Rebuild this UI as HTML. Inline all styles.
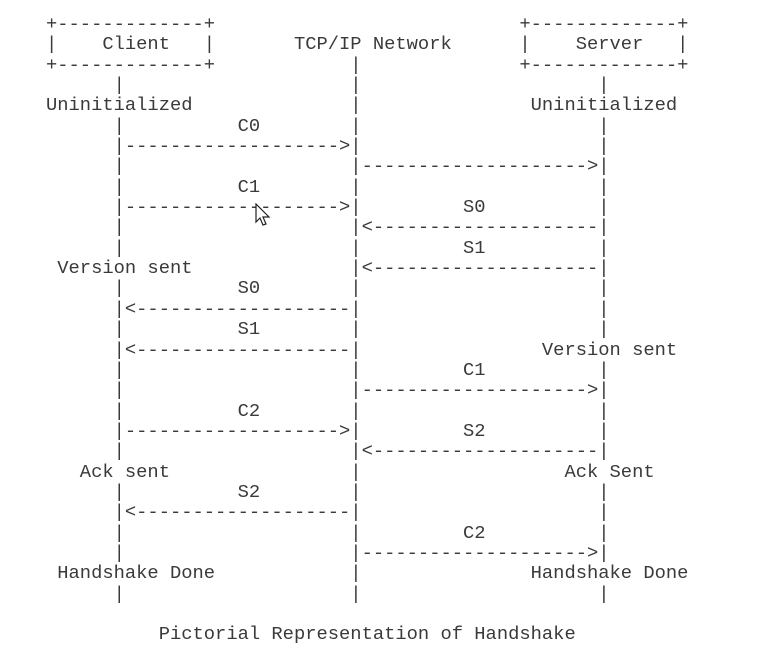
<!DOCTYPE html>
<html><head><meta charset="utf-8"><style>
html,body{margin:0;padding:0;background:#fff;width:759px;height:668px;overflow:hidden}
pre{position:absolute;left:46px;top:14px;margin:0;font-family:"Liberation Mono",monospace;font-size:18.8px;line-height:20.35px;color:#3a3a3a}
svg{position:absolute;left:255px;top:203px}
</style></head><body>
<pre>+-------------+                           +-------------+
|    Client   |       TCP/IP Network      |    Server   |
+-------------+            |              +-------------+
      |                    |                     |
Uninitialized              |               Uninitialized
      |          C0        |                     |
      |------------------->|                     |
      |                    |-------------------->|
      |          C1        |                     |
      |------------------->|         S0          |
      |                    |<--------------------|
      |                    |         S1          |
 Version sent              |<--------------------|
      |          S0        |                     |
      |<-------------------|                     |
      |          S1        |                     |
      |<-------------------|                Version sent
      |                    |         C1          |
      |                    |-------------------->|
      |          C2        |                     |
      |------------------->|         S2          |
      |                    |<--------------------|
   Ack sent                |                  Ack Sent
      |          S2        |                     |
      |<-------------------|                     |
      |                    |         C2          |
      |                    |-------------------->|
 Handshake Done            |               Handshake Done
      |                    |                     |

          Pictorial Representation of Handshake</pre>
<svg width="16" height="24" viewBox="0 0 16 24"><path d="M1 1 L1 19 L5 15 L8 22 L11 21 L8 14 L14 14 Z" fill="#fff" stroke="#222" stroke-width="1.2"/></svg>
</body></html>
